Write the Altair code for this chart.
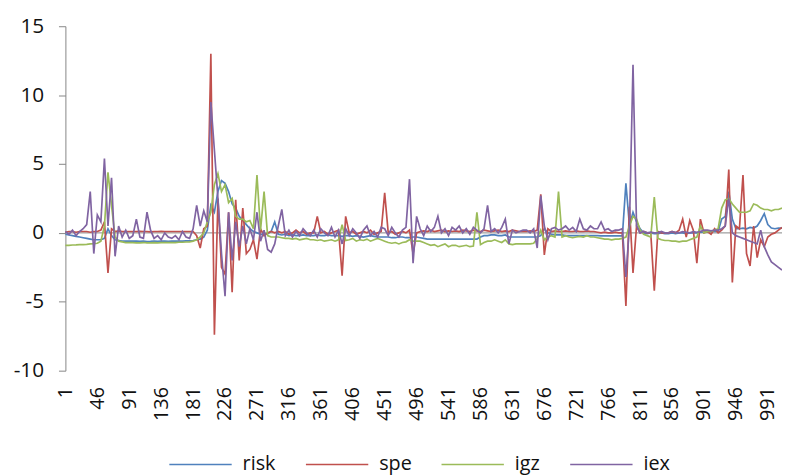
import altair as alt
import pandas as pd

# category index step between stored observations
step = 5

names = ["risk", "spe", "igz", "iex"]
colors = ["#4F81BD", "#C0504D", "#9BBB59", "#8064A2"]
tick_labels = [1, 46, 91, 136, 181, 226, 271, 316, 361, 406, 451, 496, 541,
               586, 631, 676, 721, 766, 811, 856, 901, 946, 991]
y_ticks = [-10, -5, 0, 5, 10, 15]

risk = [
    -0.1, -0.15, -0.2, -0.25, -0.3, -0.35, -0.4, -0.45, -0.5, -0.5,
    -0.5, -0.4, 0.3, -0.2, -0.5, -0.55, -0.6, -0.6, -0.6, -0.6,
    -0.6, -0.62, -0.6, -0.63, -0.62, -0.6, -0.62, -0.6, -0.6, -0.62,
    -0.6, -0.6, -0.6, -0.6, -0.58, -0.58, -0.55, -0.5, -0.45, -0.3,
    0.2, 2.0, 1.5, 3.0, 3.8, 3.6, 3.0, 2.1, 1.8, 1.2,
    0.9, 0.6, 0.3, 0.1, 0.0, -0.1, -0.1, -0.05, 0.1, 0.8,
    -0.1, -0.15, -0.1, -0.2, -0.15, -0.2, -0.2, -0.15, -0.2, -0.2,
    -0.2, -0.15, -0.2, -0.2, -0.15, -0.2, -0.2, -0.2, -0.25, -0.2,
    -0.2, -0.25, -0.2, -0.25, -0.3, -0.25, -0.2, -0.25, -0.3, -0.3,
    -0.3, -0.3, -0.35, -0.35, -0.3, -0.3, -0.35, -0.35, -0.3, -0.3,
    -0.35, -0.4, -0.45, -0.45, -0.45, -0.45, -0.45, -0.45, -0.45, -0.45,
    -0.45, -0.45, -0.45, -0.45, -0.45, -0.45, -0.45, -0.3, -0.2, -0.2,
    -0.15, -0.15, -0.2, -0.2, -0.15, -0.3, -0.3, -0.3, -0.3, -0.3,
    -0.3, -0.3, -0.3, -0.3, -0.2, 0.3, 0.0, -0.1, -0.15, -0.15,
    -0.15, -0.2, -0.2, -0.2, -0.2, -0.2, -0.2, -0.2, -0.2, -0.2,
    -0.2, -0.22, -0.22, -0.22, -0.22, -0.22, -0.22, -0.22, 3.6, 0.5,
    1.5, 0.8, 0.3, 0.0, -0.05, 0.0, -0.05, -0.05, 0.0, -0.05,
    -0.05, 0.0, -0.05, 0.0, 0.0, -0.05, 0.0, 0.0, 0.0, 0.05,
    0.05, 0.05, 0.1, 0.1, 0.1, 1.0, 1.2, 3.0, 1.0, 0.3,
    0.3, 0.35, 0.3, 0.4, 0.35, 0.5, 0.9, 1.4, 0.6, 0.35,
    0.3, 0.35, 0.35,
]

spe = [
    0.05, 0.1, 0.1, 0.05, 0.1, 0.1, 0.1, 0.05, 0.1, 0.1,
    0.2, 0.8, -2.9, 0.3, 0.1, 0.15, 0.1, 0.1, 0.1, 0.1,
    0.1, 0.12, 0.1, 0.1, 0.08, 0.1, 0.1, 0.12, 0.1, 0.1,
    0.1, 0.1, 0.1, 0.1, 0.1, 0.1, 0.1, -0.2, -1.1, 0.3,
    0.5, 13.0, -7.4, 2.5, -2.5, -3.0, 1.5, -4.3, 2.4, -2.0,
    1.8, -1.5, -1.2, -0.5, -1.9, 0.3, -0.2, 0.0, 0.1, 0.0,
    0.1, 0.0, 0.1, -0.1, 0.0, 0.2, 0.0, 0.1, -0.1, 0.0,
    0.0, 1.2, 0.0, 0.1, -0.1, 0.0, 0.1, 0.2, -3.1, 1.2,
    0.0, 0.1, -0.1, 0.0, 0.1, 0.0, 0.2, -0.1, 0.0, 0.1,
    2.9, 0.0, 0.1, -0.1, 0.0, 0.1, 0.0, 0.2, -1.5, 0.0,
    0.1, 0.15, 0.1, 0.2, 0.1, 0.15, 0.2, 0.1, 0.15, 0.1,
    0.15, 0.1, 0.2, 0.15, 0.1, 0.2, 0.15, 0.1, 0.2, 0.15,
    0.1, 0.15, 0.2, 0.1, 0.15, 0.1, 0.2, 0.15, 0.1, 0.1,
    0.1, 0.15, 0.1, 0.2, 2.8, -1.6, 0.3, 0.1, 0.15, 0.1,
    0.1, 0.15, 0.1, 0.1, 0.15, 0.1, 0.1, 0.15, 0.1, 0.1,
    0.05, 0.0, 0.05, 0.0, 0.0, 0.05, 0.0, 0.0, -5.3, 1.9,
    -2.9, 0.5, 0.0, 0.1, 0.0, 0.0, -4.2, 0.1, 0.0, 0.0,
    0.0, 0.1, 0.0, 0.2, 1.0, -0.3, 0.9, 0.2, -2.2, 1.0,
    0.0, 0.1, -0.1, 0.3, 0.0, 0.2, 0.5, 4.6, -3.6, 0.5,
    0.3, 4.2, -1.5, -2.4, 0.5, -1.8, -0.5, -1.0, -0.3, -0.1,
    0.0, 0.2, 0.4,
]

igz = [
    -0.9, -0.9, -0.88, -0.87, -0.85, -0.85, -0.83, -0.8, -0.78, -0.75,
    -0.6, 0.5, 4.4, 2.0, -0.3, -0.6, -0.65, -0.7, -0.7, -0.7,
    -0.72, -0.72, -0.7, -0.73, -0.72, -0.7, -0.72, -0.71, -0.7, -0.7,
    -0.7, -0.7, -0.68, -0.68, -0.66, -0.65, -0.6, -0.5, -0.3, 0.0,
    0.8, 1.5, 3.5, 4.3, 3.0, 3.5, 2.2, 2.5, 1.2, 1.0,
    1.0, 0.8, 0.9, 0.3, 4.2, 0.2, 3.0, -0.2, -0.3, -0.3,
    -0.3, -0.35, -0.4, -0.4, -0.45, -0.4, -0.5, -0.45, -0.4, -0.5,
    -0.5, -0.55, -0.5, -0.6, -0.55, -0.5, -0.6, -0.5, 0.6, -0.55,
    -0.5, -0.4, -0.6, -0.5, -0.55, -0.45, -0.6, -0.5, -0.4, -0.5,
    -0.6, -0.7, -0.75, -0.7, -0.8, -0.7, -0.65, -0.5, -0.6, -0.6,
    -0.6, -0.7, -0.8, -0.9, -0.85, -1.0, -0.9, -0.8, -1.0, -0.9,
    -0.9, -1.0, -0.95, -0.9, -1.0, -0.95, 1.5, -0.85, -0.7, -0.6,
    -0.6, -0.5, -0.6, -0.7, -0.5, -0.8, -0.85, -0.8, -0.8, -0.8,
    -0.8, -0.8, -0.75, -0.4, 0.2, -0.5, -0.3, -0.2, -0.3, 3.0,
    -0.3, -0.2, -0.3, -0.35, -0.3, -0.25, -0.3, -0.2, -0.3, -0.3,
    -0.35, -0.4, -0.45, -0.45, -0.5, -0.45, -0.45, -0.4, -0.3, 0.5,
    1.2, 1.0, 0.2, -0.1, -0.2, -0.3, 2.6, -0.4, -0.5, -0.55,
    -0.55, -0.6, -0.6, -0.65, -0.6, -0.6, -0.5, -0.4, -0.3, 0.5,
    0.0, 0.1, 0.1, 0.2, 0.3, 1.8, 2.4, 2.5, 2.1, 1.8,
    1.5, 1.5, 1.5, 1.6, 2.1, 2.0, 1.8, 1.7, 1.7, 1.6,
    1.7, 1.7, 1.8,
]

iex = [
    0.1, -0.1, 0.2, -0.2, 0.1, 0.3, 0.6, 3.0, -1.5, 1.3,
    0.8, 5.4, 0.5, 4.0, -1.7, 0.5, -0.3, 0.2, -0.4, -0.2,
    1.0, -0.3, -0.4, 1.5, 0.2, -0.4, -0.2, -0.5, 0.0, -0.3,
    -0.4, -0.2, -0.5, 0.1, -0.3, -0.4, 0.3, 2.0, 0.5, 1.6,
    0.8, 9.5, 6.0, 2.5, -1.5, -4.6, 1.5, -2.0, 0.8, -1.0,
    0.5, -0.8, 0.3, -0.5, 1.5, -0.6, 0.2, -1.2, -1.4, -0.8,
    0.5, 1.7, -0.2, 0.2, -0.3, 0.1, -0.2, 0.3, 0.0, -0.2,
    0.2, -0.3, 0.3, 0.0, -0.2, 0.4, -0.3, 0.2, -0.8, 0.3,
    -0.2, 0.3, 0.0, -0.4, 0.2, 0.5, -0.2, 0.1, -0.3, 0.4,
    0.3, -0.2, 0.4, 0.0, -0.3, 0.2, 0.4, 3.9, -2.2, 1.2,
    0.3, -0.2, 0.5, 0.1, 0.4, 1.2, 0.0, 0.3, -0.2, 0.4,
    0.2, 0.5, 0.0, 0.3, -0.1, 0.4, 0.2, 0.0, 0.3, 2.0,
    0.1, 0.3, 0.0, 0.4, 1.0, -0.8, 0.2, 0.0, 0.1, 0.2,
    0.2, 0.0, 0.3, -1.1, 2.7, 0.5, -0.5, 0.3, 0.4, 0.2,
    0.3, 0.5, 0.2, 0.4, 0.1, 1.0, 0.3, 0.2, 0.5, 0.3,
    0.3, 0.8, 0.2, 0.3, 0.1, 0.2, 0.2, 0.3, -3.2, 0.5,
    12.2, 0.5, 0.0, 0.1, 0.0, 0.05, 0.0, 0.0, 0.1, 0.0,
    0.0, 0.1, 0.05, 0.0, 0.1, 0.05, 0.0, 0.1, 0.05, 0.1,
    0.2, 0.2, 0.15, 0.2, 0.2, 0.3, 0.5, 2.5, 0.0, -0.2,
    -0.3, -0.4, -0.5, -0.6, -0.7, -0.8, 0.2, -1.0, -1.6, -2.1,
    -2.3, -2.5, -2.7,
]

series = {"risk": risk, "spe": spe, "igz": igz, "iex": iex}
rows = []
for name in names:
    vals = series[name]
    for i, v in enumerate(vals):
        rows.append({"t": 1 + step * i, "v": v, "series": name, "k": names.index(name)})
df = pd.DataFrame(rows)

FONT = "Open Sans"
TXT = "#111111"

zero = alt.Chart(pd.DataFrame({"y": [0]})).mark_rule(color="#868686", strokeWidth=1).encode(
    y=alt.Y("y:Q", scale=alt.Scale(domain=[-10, 15], nice=False))
)

lines = alt.Chart(df).mark_line(strokeWidth=1.7).encode(
    x=alt.X(
        "t:Q",
        scale=alt.Scale(domain=[1, 1011], nice=False, zero=False),
        axis=alt.Axis(
            values=tick_labels, labelAngle=-90, labelFontSize=20, labelFont=FONT,
            labelColor=TXT, domain=False, ticks=False, labelPadding=16,
            grid=False, title=None, labelOverlap=False,
        ),
    ),
    y=alt.Y(
        "v:Q",
        scale=alt.Scale(domain=[-10, 15], nice=False),
        axis=alt.Axis(
            values=y_ticks, labelFontSize=21, labelFont=FONT, labelColor=TXT,
            labelExpr="'' + datum.value",
            domainColor="#868686", tickColor="#868686", tickSize=7, labelPadding=15,
            grid=False, title=None,
        ),
    ),
    color=alt.Color(
        "series:N",
        sort=names,
        scale=alt.Scale(domain=names, range=colors),
        legend=alt.Legend(
            orient="none", legendX=104, legendY=410, direction="horizontal",
            title=None, symbolType="stroke", symbolSize=3969, symbolStrokeWidth=1.5,
            labelFontSize=20, labelFont=FONT, labelColor=TXT,
            columnPadding=27, labelOffset=10,
        ),
    ),
    detail="k:O",
)

chart = alt.layer(zero, lines).properties(
    width=724,
    height=348,
    autosize=alt.AutoSizeParams(type="none"),
    padding={"left": 58, "top": 16, "right": 0, "bottom": 104},
).configure_view(stroke=None)

chart.save("out.html", embed_options={"renderer": "svg", "actions": False})
